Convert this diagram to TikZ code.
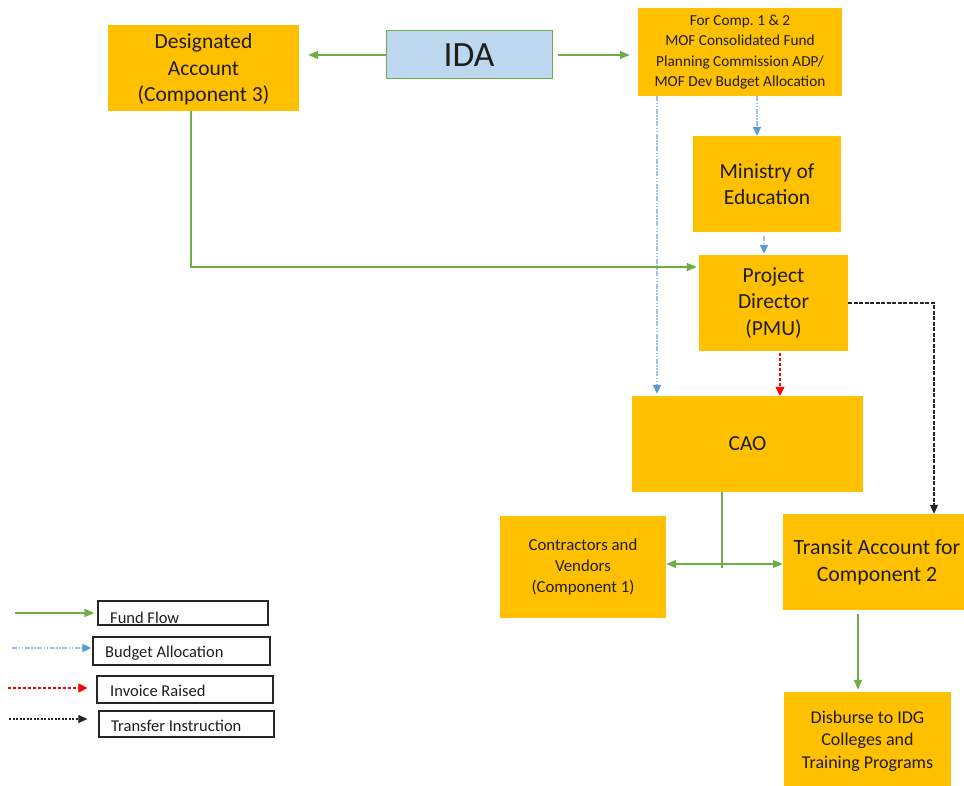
\documentclass[tikz,border=0pt]{standalone}
\usepackage{fontspec}
\setmainfont{Carlito}
\usetikzlibrary{arrows.meta}
\definecolor{boxor}{HTML}{FFC000}
\definecolor{idab}{HTML}{BDD7EE}
\definecolor{fgreen}{HTML}{70AD47}
\definecolor{bblue}{HTML}{5B9BD5}
\definecolor{lblue}{HTML}{9DC3E6}
\definecolor{txt}{HTML}{1E1E1E}
\frenchspacing
\begin{document}
\begin{tikzpicture}[x=1pt,y=-1pt,
  obox/.style={rectangle, fill=boxor, inner sep=2pt, align=center, text=txt},
  legbox/.style={rectangle, draw=black!85, line width=1.2pt, inner sep=0pt, anchor=center},
  legtext/.style={anchor=base west, inner sep=0pt, text=txt, font=\fontsize{16.5}{19}\selectfont},
  fund/.style={draw=fgreen, line width=1.4pt, -{Triangle[length=10pt,width=8pt]}},
  fundline/.style={draw=fgreen, line width=1.4pt},
  fundboth/.style={draw=fgreen, line width=1.4pt, {Triangle[length=10pt,width=8pt]}-{Triangle[length=10pt,width=8pt]}},
  budget/.style={draw=lblue, line width=1.6pt, dash pattern=on 5pt off 1.5pt on 1.5pt off 1.5pt on 1.5pt off 1.5pt, -{Triangle[length=9pt,width=8pt,color=bblue]}},
  invoice/.style={draw=red, line width=1.1pt, dash pattern=on 3pt off 2pt, -{Triangle[length=9pt,width=9pt]}},
  transfer/.style={draw=black!85, line width=1.1pt, dash pattern=on 4pt off 1.5pt, -{Triangle[length=9pt,width=8pt]}}
]
\useasboundingbox (0,0) rectangle (964,786);
\fill[white] (0,0) rectangle (964,786);

% boxes
\node[obox, minimum width=191pt, minimum height=86pt, text depth=0pt, font=\fontsize{21.5}{26.5}\selectfont] (da) at (203.5,68) {\raisebox{0pt}{}Designated\\Account\\(Component 3)};
\node[rectangle, fill=idab, draw=fgreen, line width=1pt, minimum width=166pt, minimum height=48pt, font=\fontsize{35.5}{38}\selectfont, text=txt] (ida) at (469,55) {IDA};
\node[obox, minimum width=204pt, minimum height=88pt, font=\fontsize{15.3}{20.5}\selectfont] (mof) at (740,52) {For Comp. 1 \& 2\\ MOF Consolidated Fund\\Planning Commission ADP/\\MOF Dev Budget Allocation};
\node[obox, minimum width=148pt, minimum height=96pt, font=\fontsize{21.5}{26}\selectfont] (moe) at (767,184) {Ministry of\\Education};
\node[obox, minimum width=149pt, minimum height=96pt, font=\fontsize{21.5}{26.5}\selectfont] (pd) at (773.5,303) {Project\\Director\\(PMU)};
\node[obox, minimum width=231pt, minimum height=96pt, font=\fontsize{21.5}{26}\selectfont] (cao) at (747.5,444) {CAO};
\node[obox, minimum width=166pt, minimum height=102pt, font=\fontsize{16.8}{21}\selectfont] (cv) at (583,567) {Contractors and\\Vendors\\(Component 1)};
\node[obox, minimum width=188pt, minimum height=96pt, font=\fontsize{21.8}{27}\selectfont] (ta) at (877,562) {Transit Account for\\Component 2};
\node[obox, minimum width=167pt, minimum height=98pt, font=\fontsize{18}{22.5}\selectfont] (dis) at (867.5,741) {Disburse to IDG\\Colleges and\\Training Programs};

% connectors
\coordinate (bx1) at (657,0);
\coordinate (bx2) at (757,0);
\coordinate (bx3) at (764,0);
\coordinate (bx4) at (191,0);
\coordinate (cy) at (0,267);
\coordinate (bx5) at (780,0);
\coordinate (tr) at (934,305);
\coordinate (bx6) at (722,568);
\coordinate (hy) at (0,564);
\coordinate (bx7) at (858,0);

\draw[fund, shorten >=9pt] (ida.west) -- (ida.west -| da.east);
\draw[fund, shorten <=5pt, shorten >=8pt] (ida.east) -- (ida.east -| mof.west);
\draw[budget, shorten >=2pt] (mof.south -| bx1) -- (cao.north -| bx1);
\draw[budget] (mof.south -| bx2) -- (moe.north -| bx2);
\draw[budget, shorten <=4pt, shorten >=1pt] (moe.south -| bx3) -- (pd.north -| bx3);
\draw[fund, shorten >=2pt] (da.south -| bx4) -- (bx4 |- cy) -- (pd.west |- cy);
\draw[invoice, shorten <=2pt] (pd.south -| bx5) -- (cao.north -| bx5);
\draw[transfer] (pd.east) -- (pd.east -| tr) -- (tr |- ta.north);
\draw[fundline] (cao.south -| bx6) -- (bx6);
\draw[fundboth] (cv.east |- hy) -- (ta.west |- hy);
\draw[fund, shorten <=4pt, shorten >=2pt] (ta.south -| bx7) -- (dis.north -| bx7);

% legend
\node[legbox, minimum width=170pt, minimum height=24pt] (lf) at (183,613) {};
\begin{scope}
\clip ([xshift=0.6pt,yshift=0.6pt]lf.south west) rectangle ([xshift=-0.6pt,yshift=-0.6pt]lf.north east);
\node[legtext] (lft) at (110,623.5) {Fund Flow};
\end{scope}
\node[legbox, minimum width=177pt, minimum height=28pt] (lb) at (181.5,651) {};
\node[legtext] (lbt) at (105,657.5) {Budget Allocation};
\node[legbox, minimum width=176pt, minimum height=27pt] (li) at (185,689.5) {};
\node[legtext] (lit) at (110,696) {Invoice Raised};
\node[legbox, minimum width=175pt, minimum height=26pt] (lt) at (186.5,724) {};
\node[legtext] (ltt) at (111,731) {Transfer Instruction};

\coordinate (lfa) at (15,613);
\coordinate (lba) at (12,648);
\coordinate (lia) at (8,688);
\coordinate (lta) at (9,719);
\draw[fund, line width=1.2pt, shorten >=3pt] (lfa) -- (lfa -| lf.west);
\draw[budget, shorten >=1pt] (lba) -- (lba -| lb.west);
\draw[invoice, shorten >=9pt] (lia) -- (lia -| li.west);
\draw[transfer, dash pattern=on 2pt off 1.5pt, shorten >=11pt] (lta) -- (lta -| lt.west);
\end{tikzpicture}
\end{document}
